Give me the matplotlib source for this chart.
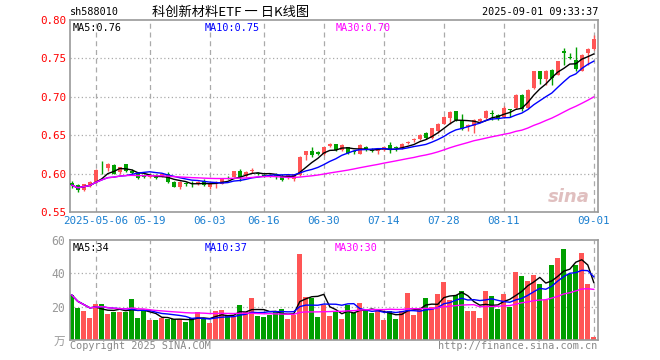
import matplotlib
matplotlib.use("Agg")
import matplotlib.pyplot as plt
import numpy as np
import pandas as pd

# daily candles, 2025-04-25 .. 2025-09-01 (88 trading days)
opens = [0.588, 0.585, 0.579, 0.584, 0.589, 0.609, 0.607, 0.611, 0.602, 0.612,
         0.604, 0.601, 0.597, 0.595, 0.596, 0.596, 0.600, 0.589, 0.583, 0.588,
         0.587, 0.586, 0.590, 0.582, 0.586, 0.587, 0.596, 0.596, 0.604, 0.597,
         0.603, 0.601, 0.598, 0.598, 0.598, 0.597, 0.594, 0.593, 0.598, 0.624,
         0.629, 0.628, 0.625, 0.636, 0.638, 0.631, 0.634, 0.629, 0.626, 0.635,
         0.631, 0.630, 0.631, 0.637, 0.634, 0.633, 0.640, 0.644, 0.645, 0.653,
         0.646, 0.655, 0.665, 0.672, 0.681, 0.670, 0.661, 0.662, 0.668, 0.672,
         0.679, 0.676, 0.674, 0.684, 0.685, 0.702, 0.685, 0.711, 0.733, 0.723,
         0.735, 0.729, 0.759, 0.752, 0.748, 0.734, 0.757, 0.762]
highs = [0.590, 0.586, 0.587, 0.590, 0.606, 0.616, 0.614, 0.612, 0.609, 0.613,
         0.606, 0.602, 0.599, 0.599, 0.599, 0.601, 0.602, 0.590, 0.590, 0.589,
         0.591, 0.590, 0.593, 0.588, 0.590, 0.594, 0.597, 0.604, 0.606, 0.603,
         0.607, 0.602, 0.600, 0.600, 0.601, 0.599, 0.599, 0.600, 0.623, 0.630,
         0.635, 0.630, 0.635, 0.640, 0.639, 0.638, 0.635, 0.631, 0.638, 0.636,
         0.633, 0.633, 0.635, 0.641, 0.636, 0.640, 0.643, 0.646, 0.651, 0.654,
         0.660, 0.666, 0.675, 0.681, 0.682, 0.678, 0.665, 0.671, 0.672, 0.683,
         0.683, 0.677, 0.688, 0.684, 0.703, 0.704, 0.710, 0.734, 0.734, 0.735,
         0.736, 0.747, 0.763, 0.757, 0.765, 0.756, 0.763, 0.780]
lows = [0.581, 0.576, 0.577, 0.583, 0.588, 0.600, 0.604, 0.599, 0.600, 0.602,
        0.599, 0.593, 0.594, 0.594, 0.593, 0.595, 0.588, 0.582, 0.580, 0.584,
        0.583, 0.585, 0.584, 0.580, 0.581, 0.586, 0.593, 0.595, 0.591, 0.596,
        0.601, 0.598, 0.595, 0.595, 0.593, 0.591, 0.593, 0.591, 0.597, 0.618,
        0.622, 0.624, 0.624, 0.635, 0.630, 0.630, 0.626, 0.625, 0.625, 0.630,
        0.628, 0.625, 0.630, 0.627, 0.630, 0.632, 0.639, 0.641, 0.644, 0.645,
        0.645, 0.653, 0.664, 0.664, 0.669, 0.657, 0.656, 0.653, 0.667, 0.671,
        0.670, 0.670, 0.673, 0.674, 0.684, 0.682, 0.684, 0.710, 0.717, 0.715,
        0.716, 0.728, 0.742, 0.749, 0.733, 0.733, 0.742, 0.761]
closes = [0.585, 0.578, 0.586, 0.589, 0.605, 0.608, 0.612, 0.600, 0.608, 0.603,
          0.601, 0.594, 0.596, 0.597, 0.594, 0.600, 0.589, 0.583, 0.589, 0.587,
          0.586, 0.589, 0.585, 0.587, 0.589, 0.593, 0.595, 0.603, 0.596, 0.602,
          0.605, 0.599, 0.597, 0.597, 0.597, 0.592, 0.598, 0.599, 0.622, 0.629,
          0.624, 0.625, 0.634, 0.639, 0.631, 0.637, 0.627, 0.628, 0.637, 0.631,
          0.630, 0.631, 0.634, 0.631, 0.633, 0.639, 0.641, 0.645, 0.650, 0.646,
          0.659, 0.665, 0.674, 0.680, 0.670, 0.658, 0.663, 0.670, 0.671, 0.682,
          0.677, 0.671, 0.685, 0.683, 0.702, 0.684, 0.709, 0.733, 0.723, 0.734,
          0.725, 0.746, 0.757, 0.751, 0.736, 0.755, 0.762, 0.775]
# volume in 万 lots
volumes = [27.0, 19.4, 17.4, 13.4, 21.6, 21.4, 15.6, 16.8, 16.8, 17.0,
           24.8, 13.2, 17.6, 12.0, 12.0, 13.4, 12.4, 12.4, 12.4, 11.0,
           13.0, 16.8, 13.0, 10.4, 17.4, 18.0, 14.2, 14.2, 21.0, 16.6,
           25.2, 14.4, 14.0, 15.0, 17.4, 18.6, 12.6, 15.0, 51.6, 25.6,
           25.0, 13.8, 21.0, 14.4, 17.0, 12.6, 21.0, 16.0, 22.2, 17.4,
           16.4, 17.4, 12.0, 17.4, 12.6, 17.4, 28.2, 15.0, 19.0, 25.4,
           20.0, 27.6, 35.0, 24.0, 27.0, 29.4, 17.4, 17.4, 13.4, 29.4,
           26.4, 18.6, 27.6, 20.0, 41.0, 38.6, 35.6, 39.0, 33.6, 24.0,
           45.0, 49.4, 54.6, 39.4, 45.0, 52.4, 33.6, 2.0]

date_ticks = [4, 13, 23, 32, 42, 52, 62, 72, 87]
date_labels = ["2025-05-06", "05-19", "06-03", "06-16", "06-30",
               "07-14", "07-28", "08-11", "09-01"]
price_ticks = [0.55, 0.60, 0.65, 0.70, 0.75, 0.80]
vol_ticks = [20, 40, 60]

RED = "#ff5555"
GREEN = "#009f00"
GRID = "#aaaaaa"
MONO = "DejaVu Sans Mono"
FS = 7.3

n = len(closes)
x = np.arange(n)
up = np.array(closes) >= np.array(opens)
colors = [RED if u else GREEN for u in up]

cs = pd.Series(closes)
ma5 = cs.rolling(5, min_periods=1).mean()
ma10 = cs.rolling(10, min_periods=1).mean()
ma30 = cs.rolling(30, min_periods=1).mean()
vs = pd.Series(volumes)
vma5 = vs.rolling(5, min_periods=1).mean()
vma10 = vs.rolling(10, min_periods=1).mean()
vma30 = vs.rolling(30, min_periods=1).mean()

fig = plt.figure(figsize=(6.6, 3.6), dpi=100)
W, H = 660, 360
ax = fig.add_axes([70 / W, 1 - 212 / H, 528 / W, 192 / H])
axv = fig.add_axes([70 / W, 1 - 340 / H, 528 / W, 100 / H])

for a in (ax, axv):
    a.set_xlim(-0.3, n - 0.3)
    for s in a.spines.values():
        s.set_color("#999999")
        s.set_linewidth(1.2)
    a.tick_params(length=0)
    a.set_xticks(date_ticks)
    for t in date_ticks:
        a.axvline(t, color=GRID, lw=0.9, ls=(0, (4, 3)), zorder=0)

# candles
bw = 0.68
for i in range(n):
    ax.vlines(x[i], lows[i], highs[i], color=colors[i], lw=1, zorder=2)
    lo = min(opens[i], closes[i])
    h = abs(closes[i] - opens[i])
    if h < 0.0006:
        ax.hlines(closes[i], x[i] - bw / 2, x[i] + bw / 2, color=colors[i], lw=1, zorder=3)
    else:
        ax.bar(x[i], h, bw, bottom=lo, color=colors[i], lw=0, zorder=3)

ax.plot(x, ma5, color="black", lw=1, zorder=4)
ax.plot(x, ma10, color="#0000ff", lw=1, zorder=4)
ax.plot(x, ma30, color="#ff00ff", lw=1, zorder=4)

ax.set_ylim(0.55, 0.80)
ax.set_yticks(price_ticks)
ax.set_yticklabels(["%.2f" % p for p in price_ticks], color="red",
                   family=MONO, fontsize=FS + 0.5)
for p in price_ticks[1:-1]:
    ax.axhline(p, color=GRID, lw=0.9, ls=(0, (1, 2)), zorder=0)
ax.set_xticklabels(date_labels, color="#1a7fd0", family=MONO, fontsize=FS + 0.5)
ax.tick_params(axis="x", pad=3)
ax.tick_params(axis="y", pad=3)

ax.text(3 / 528, 0.985, "MA5:%.2f" % ma5.iloc[-1], transform=ax.transAxes,
        color="black", family=MONO, fontsize=FS, va="top")
ax.text(135 / 528, 0.985, "MA10:%.2f" % ma10.iloc[-1], transform=ax.transAxes,
        color="#0000ff", family=MONO, fontsize=FS, va="top")
ax.text(266 / 528, 0.985, "MA30:%.2f" % ma30.iloc[-1], transform=ax.transAxes,
        color="#ff00ff", family=MONO, fontsize=FS, va="top")
ax.text(0.985, 0.03, "sina", transform=ax.transAxes, ha="right", va="bottom",
        color="#d9b0b0", fontsize=13, fontweight="bold", style="italic", alpha=0.8)

# volume
axv.bar(x, volumes, 0.82, color=colors, lw=0, zorder=2)
axv.plot(x, vma5, color="black", lw=1, zorder=4)
axv.plot(x, vma10, color="#0000ff", lw=1, zorder=4)
axv.plot(x, vma30, color="#ff00ff", lw=1, zorder=4)
axv.set_ylim(0, 60)
axv.set_yticks([0] + vol_ticks)
axv.set_yticklabels(["万"] + [str(v) for v in vol_ticks], color="#999999",
                    family=[MONO, "Noto Sans CJK SC"], fontsize=FS + 1)
for v in vol_ticks[:-1]:
    axv.axhline(v, color=GRID, lw=0.9, ls=(0, (1, 2)), zorder=0)
axv.set_xticklabels([])

axv.text(3 / 528, 0.97, "MA5:%d" % vma5.iloc[-1], transform=axv.transAxes,
         color="black", family=MONO, fontsize=FS, va="top")
axv.text(135 / 528, 0.97, "MA10:%d" % vma10.iloc[-1], transform=axv.transAxes,
         color="#0000ff", family=MONO, fontsize=FS, va="top")
axv.text(265 / 528, 0.97, "MA30:%d" % vma30.iloc[-1], transform=axv.transAxes,
         color="#ff00ff", family=MONO, fontsize=FS, va="top")

# header / footer
fig.text(70 / W, 1 - 12 / H, "sh588010", family=MONO, fontsize=FS, va="center")
fig.text(231 / W, 1 - 12 / H, "科创新材料ETF 一 日K线图", family=["Noto Sans CJK SC", "DejaVu Sans"],
         fontsize=9.5, va="center", ha="center")
fig.text(598 / W, 1 - 12 / H, "2025-09-01 09:33:37", family=MONO, fontsize=FS,
         va="center", ha="right")
fig.text(70 / W, 1 - 346 / H, "Copyright 2025 SINA.COM", family=MONO, fontsize=FS,
         color="#888888", va="center")
fig.text(597 / W, 1 - 346 / H, "http://finance.sina.com.cn", family=MONO, fontsize=FS,
         color="#888888", va="center", ha="right")

fig.savefig("out.png", dpi=100, facecolor="white")
